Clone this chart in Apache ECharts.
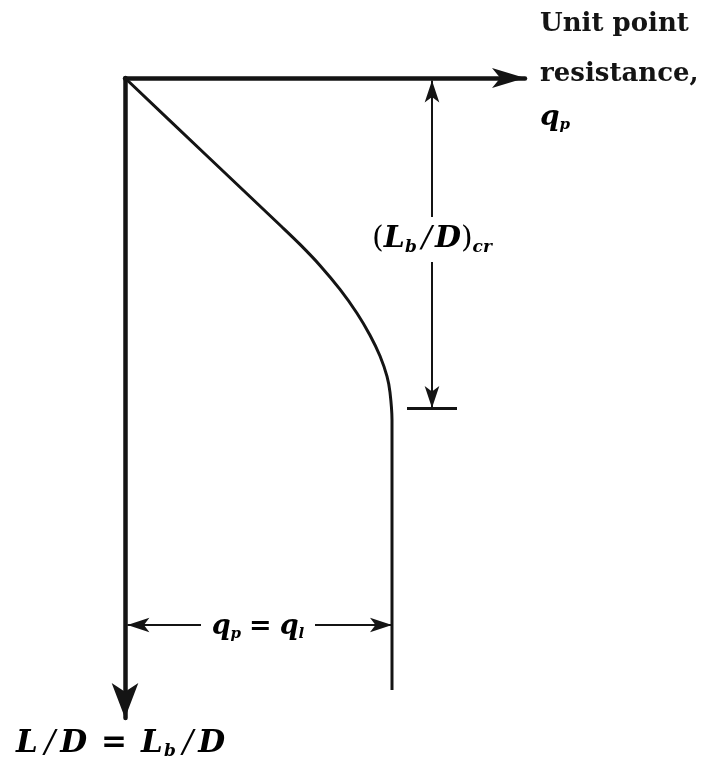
<!DOCTYPE html>
<html>
<head>
<meta charset="utf-8">
<script src="https://cdn.jsdelivr.net/npm/echarts@6/dist/echarts.min.js"></script>
<style>
  html, body { margin: 0; padding: 0; background: #fff; }
  #chart { width: 707px; height: 769px; }
</style>
</head>
<body>
<div id="chart"></div>
<script>
// Unit point resistance q_p versus embedment ratio L/D (schematic units)
const resistance = [0, 20, 39.25, 43.75, 48.75, 53.75, 58, 61.25, 63.75, 65.5, 66.25, 66.75, 66.75, 66.75];
const embedment  = [0, 19, 37.25, 41.6, 46.85, 52.85, 58.8, 64.3, 69.5, 74.6, 78.6, 85.5, 95, 153];
const limitResistance = 66.75;   // q_l
const criticalRatio = 82.5;      // (L_b/D)_cr

// axis extents and annotation placement (data units)
const qMax = 100;
const ratioMax = 160;
const dimX = 76.75;              // vertical dimension line for (L_b/D)_cr
const tickEnds = [70.5, 83];     // short bar closing that dimension
const gapTop = 34.75, gapBottom = 46;   // break around its label
const dimY = 136.75;             // horizontal dimension line for q_l
const gapLeft = 19, gapRight = 47.5;

const INK = '#141414';
const SERIF = '"DejaVu Serif", "Liberation Serif", serif';

const chart = echarts.init(document.getElementById('chart'), null, { renderer: 'canvas' });

const curve = resistance.map((q, i) => [q, embedment[i]]);

function seg(a, b, symA, symB) {
  return [{ coord: a, symbol: symA }, { coord: b, symbol: symB }];
}

chart.setOption({
  animation: false,
  backgroundColor: '#fff',
  grid: { left: 125, top: 78, width: 400, height: 640, containLabel: false },
  xAxis: {
    type: 'value', min: 0, max: qMax, position: 'top',
    axisLine: { show: true, onZero: false, symbol: ['none', 'arrow'], symbolSize: [15, 33],
      lineStyle: { color: INK, width: 4.5 } },
    axisTick: { show: false }, axisLabel: { show: false }, splitLine: { show: false }
  },
  yAxis: {
    type: 'value', min: 0, max: ratioMax, inverse: true,
    axisLine: { show: true, onZero: false, symbol: ['arrow', 'none'], symbolSize: [20, 35],
      lineStyle: { color: INK, width: 4.5 } },
    axisTick: { show: false }, axisLabel: { show: false }, splitLine: { show: false }
  },
  series: [
    {
      type: 'line', data: curve, smooth: 0.3, showSymbol: false, silent: true,
      lineStyle: { color: INK, width: 3 }
    },
    {
      type: 'line', data: [], silent: true,
      markLine: {
        silent: true, animation: false,
        symbolSize: [11, 22],
        label: { show: false },
        lineStyle: { color: INK, width: 2, type: 'solid' },
        emphasis: { disabled: true },
        data: [
          seg([dimX, 0.6], [dimX, gapTop], 'arrow', 'none'),
          seg([dimX, gapBottom], [dimX, criticalRatio], 'none', 'arrow'),
          seg([0.6, dimY], [gapLeft, dimY], 'arrow', 'none'),
          seg([gapRight, dimY], [limitResistance, dimY], 'none', 'arrow')
        ]
      }
    },
    {
      type: 'line', data: [], silent: true,
      markLine: {
        silent: true, animation: false, symbol: ['none', 'none'],
        label: { show: false },
        lineStyle: { color: INK, width: 3, type: 'solid' },
        emphasis: { disabled: true },
        data: [ seg([tickEnds[0], criticalRatio], [tickEnds[1], criticalRatio], 'none', 'none') ]
      }
    }
  ]
});

// text annotations anchored to the data positions above
const crLabel = chart.convertToPixel({ gridIndex: 0 }, [dimX, (gapTop + gapBottom) / 2]);
const qLabel = chart.convertToPixel({ gridIndex: 0 }, [(gapLeft + gapRight) / 2, dimY]);

function mathStyles(size) {
  return {
    i: { fontFamily: SERIF, fontStyle: 'italic', fontWeight: 'bold', fontSize: size, color: INK },
    n: { fontFamily: SERIF, fontSize: size, color: INK },
    eq: { fontFamily: SERIF, fontWeight: 'bold', fontSize: size, color: INK, padding: [0, 8, 0, 8] },
    sl: { fontFamily: SERIF, fontStyle: 'italic', fontSize: size, color: INK, padding: [0, 3, 0, 5] },
    sub: { fontFamily: SERIF, fontStyle: 'italic', fontWeight: 'bold', fontSize: Math.round(size * 0.55), color: INK,
      padding: [Math.round(size * 0.55), 0, 0, 0] }
  };
}

chart.setOption({
  graphic: [
    { type: 'text', left: 540, top: 11, style: { text: 'Unit point', font: 'bold 26px ' + SERIF, fill: INK } },
    { type: 'text', left: 540, top: 61, style: { text: 'resistance,', font: 'bold 26px ' + SERIF, fill: INK } },
    { type: 'text', left: 540, top: 104, style: { text: '{i|q}{sub|p}', rich: mathStyles(28) } },
    {
      type: 'text', x: crLabel[0], y: crLabel[1],
      style: { text: '{n|(}{i|L}{sub|b}{sl|/}{i|D}{n|)}{sub|cr}', rich: mathStyles(30), align: 'center', verticalAlign: 'middle' }
    },
    {
      type: 'text', x: qLabel[0], y: qLabel[1] + 2,
      style: { text: '{i|q}{sub|p}{eq|=}{i|q}{sub|l}', rich: mathStyles(27), align: 'center', verticalAlign: 'middle' }
    },
    {
      type: 'text', left: 16, top: 728,
      style: { text: '{b|L}{sl|/}{b|D}{eq|=}{b|L}{s|b}{sl|/}{b|D}', rich: {
        b: { fontFamily: SERIF, fontStyle: 'italic', fontWeight: 'bold', fontSize: 31, color: INK },
        sl: { fontFamily: SERIF, fontStyle: 'italic', fontSize: 31, color: INK, padding: [0, 5, 0, 7] },
        eq: { fontFamily: SERIF, fontWeight: 'bold', fontSize: 31, color: INK, padding: [0, 14, 0, 14] },
        s: { fontFamily: SERIF, fontStyle: 'italic', fontWeight: 'bold', fontSize: 17, color: INK, padding: [17, 0, 0, 1] }
      } }
    }
  ]
});
</script>
</body>
</html>
